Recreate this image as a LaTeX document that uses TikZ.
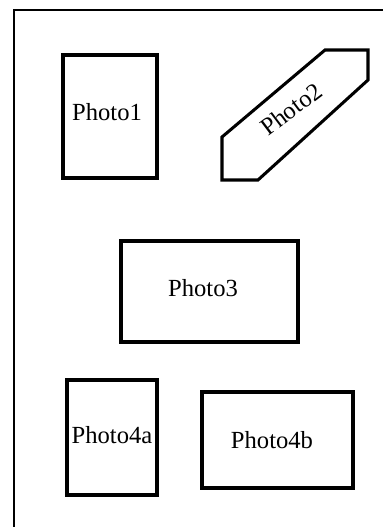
\documentclass[tikz,border=0pt]{standalone}
\usepackage{fontspec}
\setmainfont{Liberation Serif}
\usetikzlibrary{positioning}
\tikzset{
	photo/.style={shape=rectangle, draw, line width=2.6pt, inner sep=0pt},
	phototext/.style={font=\fontsize{21}{25}\selectfont, inner sep=0pt}
}
\begin{document}
\begin{tikzpicture}[x=0.03cm, y=-0.03cm]
			\useasboundingbox (0, 0) rectangle (383, 527);
			% Page frame:
			\coordinate (FB) at (14, 527);
			\coordinate (FC) at (14, 10);
			\coordinate (FR) at (383, 10);
			\draw[line width=1.8pt] (FB) -- (FC) -- (FR);
			% Photos:
			\node[photo, minimum width=2.82cm, minimum height=3.69cm](P1) at (110, 116.5){};
			\node[phototext](T1) at (107, 112){Photo1};
			\draw[line width=2.6pt, line join=miter] (222, 137) -- (325, 50) -- (368, 50) -- (368, 80) -- (258, 180) -- (222, 180) -- cycle;
			\node[phototext, rotate=37](T2) at (291, 109){Photo2};
			\node[photo, minimum width=5.31cm, minimum height=3.03cm](P3) at (209.5, 291.5){};
			\node[phototext](T3) at (203, 288){Photo3};
			\node[photo, minimum width=2.70cm, minimum height=3.45cm](P4a) at (112, 437.5){};
			\node[phototext](T4a) at (112, 435){Photo4a};
			\node[photo, minimum width=4.53cm, minimum height=2.88cm](P4b) at (277.5, 440){};
			\node[phototext](T4b) at (272, 440){Photo4b};
		\end{tikzpicture}
\end{document}
